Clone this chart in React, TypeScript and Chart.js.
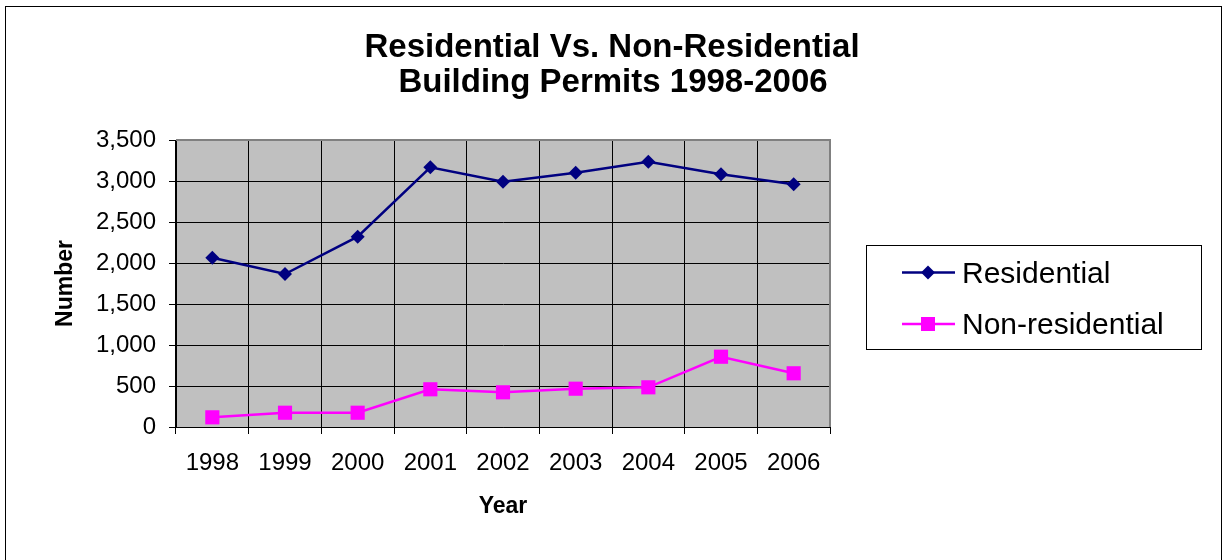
import React, { useEffect, useRef } from "react";
import { Chart, registerables } from "chart.js";

Chart.register(...registerables);

const years = ["1998", "1999", "2000", "2001", "2002", "2003", "2004", "2005", "2006"];
const residential = [2065, 1866, 2321, 3167, 2992, 3101, 3235, 3082, 2960];
const nonResidential = [118, 174, 174, 460, 423, 467, 484, 857, 655];
const titleLines = ["Residential Vs. Non-Residential", "Building Permits 1998-2006"];
const seriesNames = ["Residential", "Non-residential"];
const seriesColors = ["#000080", "#FF00FF"];
const yMax = 3500;
const yStep = 500;

const FONT = "'Liberation Sans', Arial, sans-serif";

const decorPlugin = {
  id: "decor",
  beforeDraw(chart: any) {
    const { ctx, chartArea } = chart;
    ctx.save();
    ctx.fillStyle = "#ffffff";
    ctx.fillRect(0, 0, chart.width, chart.height);
    ctx.fillStyle = "#C0C0C0";
    ctx.fillRect(chartArea.left, chartArea.top, chartArea.right - chartArea.left, chartArea.bottom - chartArea.top);
    ctx.restore();
  },
  afterDraw(chart: any) {
    const { ctx, chartArea } = chart;
    ctx.save();
    // plot area top/right border
    ctx.strokeStyle = "#808080";
    ctx.lineWidth = 2;
    ctx.beginPath();
    ctx.moveTo(chartArea.left, chartArea.top);
    ctx.lineTo(chartArea.right, chartArea.top);
    ctx.lineTo(chartArea.right, chartArea.bottom);
    ctx.stroke();
    // outer border
    ctx.strokeStyle = "#000000";
    ctx.lineWidth = 1;
    ctx.strokeRect(5.5, 6.5, 1216, 600);
    // title
    ctx.fillStyle = "#000000";
    ctx.font = `bold 33px ${FONT}`;
    ctx.textAlign = "center";
    ctx.textBaseline = "alphabetic";
    ctx.fillText(titleLines[0], 612, 57);
    ctx.fillText(titleLines[1], 613, 92);
    // legend
    ctx.strokeStyle = "#000000";
    ctx.lineWidth = 1;
    ctx.strokeRect(866.5, 245.5, 335, 104);
    const rows = [272.5, 324];
    const baselines = [283, 334];
    for (let i = 0; i < 2; i++) {
      const y = rows[i];
      ctx.strokeStyle = seriesColors[i];
      ctx.lineWidth = 2.5;
      ctx.beginPath();
      ctx.moveTo(902, y);
      ctx.lineTo(955, y);
      ctx.stroke();
      ctx.fillStyle = seriesColors[i];
      if (i === 0) {
        ctx.beginPath();
        ctx.moveTo(928, y - 7);
        ctx.lineTo(935, y);
        ctx.lineTo(928, y + 7);
        ctx.lineTo(921, y);
        ctx.closePath();
        ctx.fill();
      } else {
        ctx.fillRect(921, y - 7, 14, 14);
      }
      ctx.fillStyle = "#000000";
      ctx.font = `30px ${FONT}`;
      ctx.textAlign = "left";
      ctx.fillText(seriesNames[i], 962, baselines[i]);
    }
    ctx.restore();
  },
};

export default function App() {
  const ref = useRef<HTMLCanvasElement | null>(null);
  useEffect(() => {
    if (!ref.current) return;
    Chart.defaults.font.family = FONT;
    const chart = new Chart(ref.current, {
      type: "line",
      data: {
        labels: years,
        datasets: [
          {
            label: seriesNames[0],
            data: residential,
            borderColor: seriesColors[0],
            backgroundColor: seriesColors[0],
            borderWidth: 2.5,
            pointStyle: "rectRot",
            pointRadius: 7,
            pointBorderWidth: 0,
            tension: 0,
            clip: false as any,
          },
          {
            label: seriesNames[1],
            data: nonResidential,
            borderColor: seriesColors[1],
            backgroundColor: seriesColors[1],
            borderWidth: 2.5,
            pointStyle: "rect",
            pointRadius: 10,
            pointBorderWidth: 0,
            tension: 0,
            clip: false as any,
          },
        ],
      },
      options: {
        responsive: false,
        animation: false,
        events: [],
        layout: { padding: { left: 0, top: 140, right: 398, bottom: 0 } },
        plugins: {
          legend: { display: false },
          title: { display: false },
          tooltip: { enabled: false },
        },
        scales: {
          x: {
            offset: true,
            grid: { offset: true, color: "#000000", lineWidth: 1, tickLength: 7, drawTicks: true },
            border: { color: "#000000", width: 1 },
            ticks: { color: "#000000", font: { size: 24 }, padding: 15, maxRotation: 0, autoSkip: false },
            title: { display: true, text: "Year", color: "#000000", font: { size: 23, weight: "bold" }, padding: { top: 0, bottom: 40 } },
            afterFit: (scale: any) => { scale.height = 133; },
          },
          y: {
            min: 0,
            max: yMax,
            grid: { color: "#000000", lineWidth: 1, tickLength: 7, drawTicks: true },
            border: { color: "#000000", width: 1 },
            ticks: {
              stepSize: yStep,
              color: "#000000",
              font: { size: 24 },
              padding: 13,
              callback: (v: any) => Number(v).toLocaleString("en-US"),
            },
            title: { display: true, text: "Number", color: "#000000", font: { size: 23, weight: "bold" }, padding: { top: 52, bottom: 0 } },
            afterFit: (scale: any) => { scale.width = 176; },
          },
        },
      },
      plugins: [decorPlugin],
    });
    return () => chart.destroy();
  }, []);
  return (
    <canvas
      ref={ref}
      width={1228}
      height={560}
      style={{ position: "fixed", left: 0, top: 0, width: 1228, height: 560, display: "block" }}
    />
  );
}
